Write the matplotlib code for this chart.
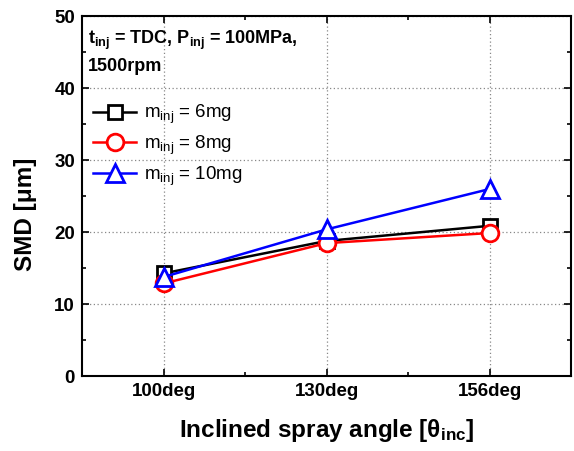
import matplotlib
matplotlib.use("Agg")
import matplotlib.pyplot as plt
from matplotlib.ticker import MultipleLocator, FixedLocator
from matplotlib.transforms import ScaledTranslation

plt.rcParams['font.family'] = ['Liberation Sans', 'DejaVu Sans']
plt.rcParams['mathtext.fontset'] = 'custom'
plt.rcParams['mathtext.rm'] = 'Liberation Sans'
plt.rcParams['mathtext.it'] = 'Liberation Sans'
plt.rcParams['mathtext.bf'] = 'Liberation Sans:bold'

categories = ['100deg', '130deg', '156deg']
smd_6mg = [14.3, 18.8, 20.9]
smd_8mg = [12.9, 18.5, 19.9]
smd_10mg = [13.8, 20.4, 26.0]
labels = [r'm$_{\mathregular{inj}}$ = 6mg', r'm$_{\mathregular{inj}}$ = 8mg', r'm$_{\mathregular{inj}}$ = 10mg']

fig = plt.figure(figsize=(5.74, 4.51), dpi=100)
ax = fig.add_axes([0.1429, 0.1652, 0.8519, 0.7993])

x = list(range(len(categories)))
series = [(smd_6mg, 'black', 's', 10), (smd_8mg, 'red', 'o', 12), (smd_10mg, 'blue', '^', 13)]
handles = []
for (vals, col, mk, ms), lab in zip(series, labels):
    h, = ax.plot(x, vals, color=col, marker=mk, markersize=ms, markerfacecolor='white',
                 markeredgecolor=col, markeredgewidth=2, linewidth=1.8, label=lab)
    handles.append(h)

ax.set_xlim(-0.5, 2.5)
ax.set_ylim(0, 50)
ax.set_xticks(x)
ax.set_xticklabels(categories, fontsize=13.5, fontweight='bold')
off = ScaledTranslation(4 / 100, 0, fig.dpi_scale_trans)
for lbl in ax.get_xticklabels():
    lbl.set_transform(lbl.get_transform() + off)
ax.xaxis.set_minor_locator(FixedLocator([0.5, 1.5]))
ax.yaxis.set_major_locator(MultipleLocator(10))
ax.yaxis.set_minor_locator(MultipleLocator(5))
for lbl in ax.get_yticklabels():
    lbl.set_fontsize(13.5)
    lbl.set_fontweight('bold')
ax.tick_params(which='both', direction='in', top=True, right=True, width=1.2)
ax.tick_params(which='major', length=5, pad=5)
ax.tick_params(which='minor', length=3)
for s in ax.spines.values():
    s.set_linewidth(1.5)
ax.grid(True, which='major', linestyle=(0, (1, 2)), color='#888888', linewidth=0.9)
ax.set_axisbelow(True)

ax.set_ylabel(r'SMD [μm]', fontsize=17.5, fontweight='bold')
ax.yaxis.set_label_coords(-0.092, 0.45)
ax.set_xlabel(r'Inclined spray angle [θ$_{\mathregular{inc}}$]', fontsize=17.5, fontweight='bold', labelpad=12)

ax.text(0.012, 0.965, r'$\mathbf{t}_{\mathbf{inj}}$ = TDC, $\mathbf{P}_{\mathbf{inj}}$ = 100MPa,' + '\n1500rpm',
        transform=ax.transAxes, fontsize=13, fontweight='bold', va='top', ha='left', linespacing=1.45)

leg = ax.legend(handles=handles, loc='upper left', bbox_to_anchor=(0.0, 0.79), frameon=False,
                fontsize=13.5, handlelength=2.3, handletextpad=0.4, labelspacing=0.4, borderaxespad=0.2)

fig.savefig('out.png', dpi=100)
